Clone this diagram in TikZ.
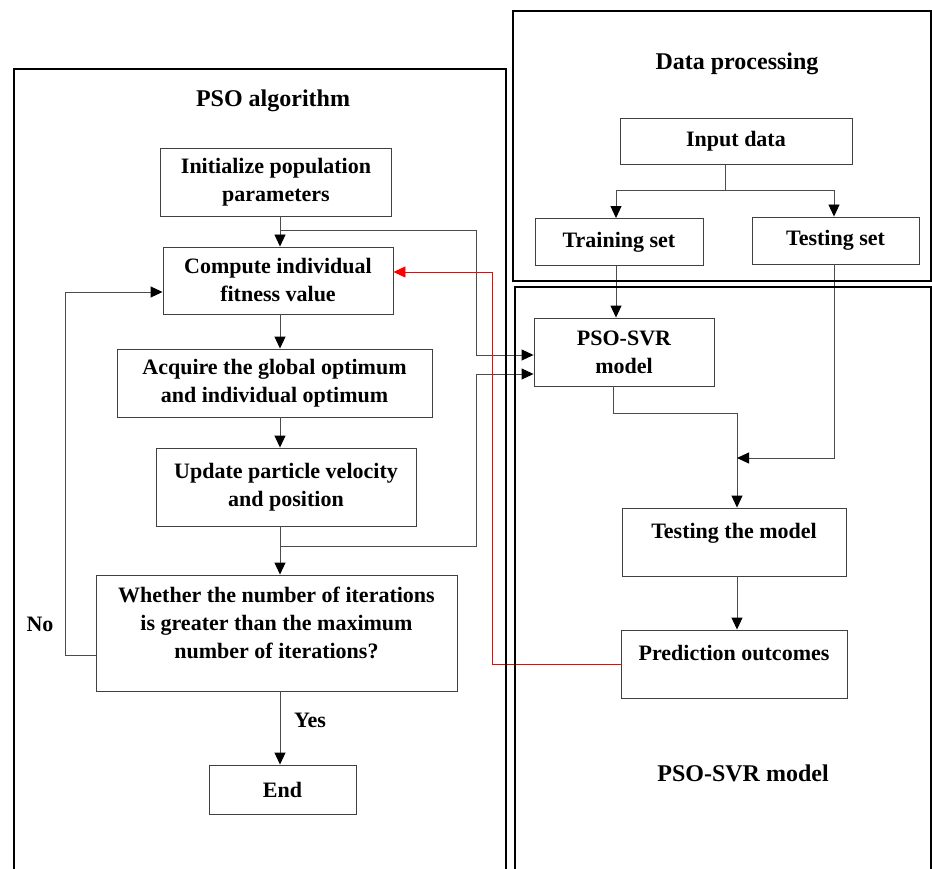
\documentclass[tikz,border=0pt]{standalone}
\usepackage{fontspec}
\setmainfont{Liberation Serif}
\usetikzlibrary{arrows.meta,positioning}

\begin{document}
\begin{tikzpicture}[
    x=1pt, y=-1pt,
    >={Triangle[length=12pt,width=11pt,color=black]},
    font=\bfseries\fontsize{22}{28}\selectfont,
    block/.style={
		rectangle,
		draw=black!75,
		line width=0.9pt,
		align=center,
		inner sep=0pt
	},
	panel/.style={
		draw=black,
		line width=2.2pt
	},
	heading/.style={
		font=\bfseries\fontsize{24}{28}\selectfont
	},
	flow/.style={
		draw=black!70,
		line width=0.9pt,
		->
	},
	feedback/.style={
		draw=red,
		line width=0.9pt,
		->,
		>={Triangle[length=12pt,width=11pt,color=red]}
	},
	raised/.style={
		text depth=22pt
	}
  ]

\useasboundingbox (0,0) rectangle (932,869);

% // PSO algorithm
\node [heading] (psotitle) at (273,101) {PSO algorithm};
\node [block, minimum width=231pt, minimum height=68pt] (init) at (276,182)
 {Initialize population\\parameters};
\node [block, minimum width=230pt, minimum height=67pt] (compute) at (278,280.5)
 {Compute individual\\fitness value};
\node [block, minimum width=315pt, minimum height=68pt] (acquire) at (274.5,383)
 {Acquire the global optimum\\and individual optimum};
\node [block, minimum width=260pt, minimum height=78pt] (update) at (286,487)
 {Update particle velocity\\and position};
\node [block, minimum width=361pt, minimum height=116pt, text depth=21pt] (check) at (276.5,633)
 {Whether the number of iterations\\is greater than the maximum\\number of iterations?};
\node [block, minimum width=147pt, minimum height=49pt] (finish) at (282.5,789.5) {End};
\node (no) at (40,624) {No};
\node (yes) at (310,720) {Yes};

% // Data processing
\node [heading] (datatitle) at (737,64) {Data processing};
\node [block, minimum width=232pt, minimum height=46pt] (input) at (736,141.5) {Input data};
\node [block, minimum width=168pt, minimum height=47pt] (train) at (619,242) {Training set};
\node [block, minimum width=167pt, minimum height=47pt] (test) at (835.5,240.5) {Testing set};

% // PSO-SVR model
\node [block, minimum width=180pt, minimum height=68pt] (model) at (624,352) {PSO-SVR\\model};
\node [block, raised, minimum width=224pt, minimum height=68pt] (testmodel) at (734,542) {Testing the model};
\node [block, raised, minimum width=226pt, minimum height=68pt] (outcome) at (734,664) {Prediction outcomes};
\node [heading] (svrtitle) at (743,773) {PSO-SVR model};

% helper points
\coordinate (spine) at (280,0);
\coordinate (bus) at (476,0);
\coordinate (tap1) at (280,230);
\coordinate (tap2) at (280,546);
\coordinate (in1) at (0,355);
\coordinate (in2) at (0,374);
\coordinate (loop) at (65,0);
\coordinate (noout) at (0,655);
\coordinate (noin) at (0,292);
\coordinate (redx) at (492.7,0);
\coordinate (redin) at (0,272);
\coordinate (split) at (725,190);
\coordinate (trainx) at (616,0);
\coordinate (testx) at (834,0);
\coordinate (modelx) at (613,0);
\coordinate (joinx) at (737,0);
\coordinate (mergey) at (0,413);
\coordinate (sidey) at (0,458);

\draw [flow] (init.south -| spine) -- (compute.north -| spine);
\draw [flow] (compute.south -| spine) -- (acquire.north -| spine);
\draw [flow] (acquire.south -| spine) -- (update.north -| spine);
\draw [flow] (update.south -| spine) -- (check.north -| spine);
\draw [flow] (check.south -| spine) -- (finish.north -| spine);
\draw [flow] (tap1) -| (bus |- in1) -- (model.west |- in1);
\draw [flow] (tap2) -| (bus |- in2) -- (model.west |- in2);
\draw [flow] (check.west |- noout) -| (loop |- noin) -- (compute.west |- noin);
\draw [feedback] (outcome.west) -| (redx |- redin) -- (compute.east |- redin);

\draw [flow, -] (input.south -| split) -- (split);
\draw [flow] (split) -| (train.north -| trainx);
\draw [flow] (split) -| (test.north -| testx);
\draw [flow] (train.south -| trainx) -- (model.north -| trainx);
\draw [flow] (model.south -| modelx) |- (joinx |- mergey) -- (testmodel.north -| joinx);
\draw [flow] (test.south -| testx) |- (joinx |- sidey);
\draw [flow] (testmodel.south -| joinx) -- (outcome.north -| joinx);

% // the panels
\draw [panel] (14,869) -- (14,69) -- (506,69) -- (506,869);
\draw [panel] (513,11) rectangle (931,281);
\draw [panel] (515,869) -- (515,287) -- (931,287) -- (931,869);

\end{tikzpicture}
\end{document}
